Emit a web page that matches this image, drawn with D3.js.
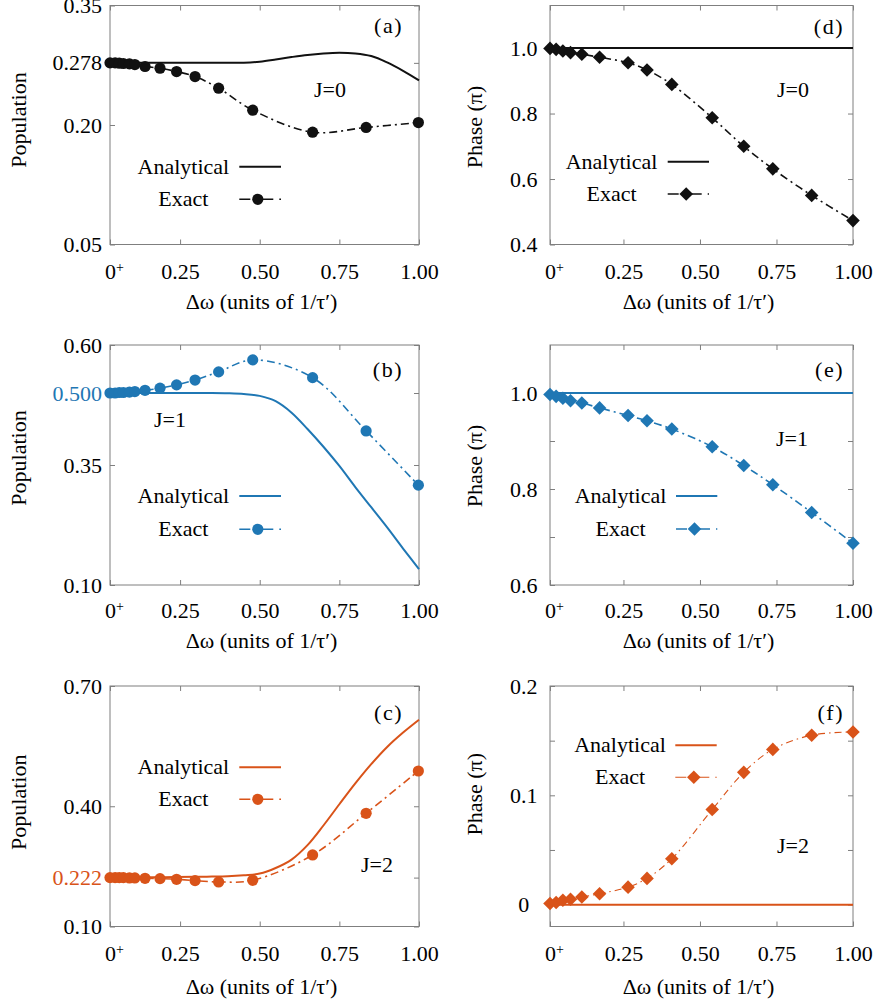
<!DOCTYPE html>
<html>
<head>
<meta charset="utf-8">
<script src="https://cdn.jsdelivr.net/npm/d3@7"></script>
<style>
  body { margin: 0; background: #fff; }
  svg text { font-family: "Liberation Serif", "Times New Roman", serif; font-size: 22px; fill: #000; }
</style>
</head>
<body>
<div id="chart"></div>
<script>

// detuning values of the exact points (left column: population, right column: phase)
const xExactPop = [0.03, 0.046, 0.059, 0.072, 0.091, 0.108, 0.14, 0.187, 0.239, 0.297, 0.371, 0.478, 0.666, 0.834, 0.998];
const xExactPhase = [0.01, 0.03, 0.052, 0.077, 0.114, 0.172, 0.265, 0.327, 0.408, 0.540, 0.643, 0.738, 0.865, 1.0];

// population, exact
const popExactJ0 = [0.278, 0.278, 0.2776, 0.2772, 0.2767, 0.2759, 0.2734, 0.2713, 0.2671, 0.2608, 0.2462, 0.2186, 0.191, 0.1969, 0.2031];
const popExactJ1 = [0.500, 0.500, 0.501, 0.501, 0.502, 0.503, 0.5056, 0.510, 0.517, 0.527, 0.544, 0.569, 0.532, 0.421, 0.308];
const popExactJ2 = [0.222, 0.222, 0.222, 0.222, 0.2212, 0.2212, 0.2203, 0.2195, 0.2178, 0.2145, 0.2112, 0.2153, 0.2785, 0.3824, 0.488];

// population, analytical
const xAnalytic = [0.03, 0.1, 0.2, 0.3, 0.35, 0.4, 0.45, 0.5, 0.55, 0.6, 0.65, 0.7, 0.75, 0.8, 0.85, 0.9, 0.95, 1.0];
const popAnalyticJ0 = [0.278, 0.278, 0.278, 0.278, 0.278, 0.278, 0.2782, 0.2795, 0.2822, 0.2853, 0.288, 0.2898, 0.2907, 0.2898, 0.2865, 0.2785, 0.268, 0.256];
const popAnalyticJ1 = [0.5, 0.5, 0.5, 0.5, 0.5, 0.4995, 0.498, 0.494, 0.483, 0.459, 0.425, 0.388, 0.348, 0.304, 0.262, 0.220, 0.176, 0.133];
const popAnalyticJ2 = [0.222, 0.222, 0.223, 0.224, 0.2245, 0.2255, 0.228, 0.232, 0.246, 0.267, 0.303, 0.352, 0.405, 0.457, 0.505, 0.548, 0.584, 0.616];

// phase (units of pi), exact
const phaseExactJ0 = [0.999, 0.996, 0.991, 0.986, 0.981, 0.972, 0.955, 0.933, 0.889, 0.787, 0.700, 0.631, 0.550, 0.473];
const phaseExactJ1 = [0.997, 0.993, 0.989, 0.984, 0.979, 0.969, 0.953, 0.942, 0.925, 0.888, 0.849, 0.809, 0.751, 0.687];
const phaseExactJ2 = [0.001, 0.002, 0.004, 0.005, 0.007, 0.010, 0.016, 0.024, 0.042, 0.087, 0.121, 0.142, 0.155, 0.158];

// phase, analytical (flat)
const xPhaseAnalytic = [0.01, 1.0];
const phaseAnalyticJ0 = [1.0, 1.0];
const phaseAnalyticJ1 = [1.0, 1.0];
const phaseAnalyticJ2 = [0, 0];

// axis ticks
const xTickValuesPop = [0.03, 0.25, 0.5, 0.75, 1.0];
const xTickValuesPhase = [0.01, 0.25, 0.5, 0.75, 1.0];
const xTickLabels = ['0', '0.25', '0.50', '0.75', '1.00'];

const yTicksA = [0.05, 0.20, 0.278, 0.35], yLabelsA = ['0.05', '0.20', '0.278', '0.35'];
const yTicksB = [0.10, 0.35, 0.500, 0.60], yLabelsB = ['0.10', '0.35', '0.500', '0.60'];
const yTicksC = [0.10, 0.222, 0.40, 0.70], yLabelsC = ['0.10', '0.222', '0.40', '0.70'];
const yTicksD = [0.4, 0.6, 0.8, 1.0], yLabelsD = ['0.4', '0.6', '0.8', '1.0'];
const yTicksE = [0.6, 0.7, 0.8, 0.9, 1.0], yLabelsE = ['0.6', '', '0.8', '', '1.0'];
const yTicksF = [0, 0.05, 0.1, 0.15, 0.2], yLabelsF = ['0', '', '0.1', '', '0.2'];

const black = '#111111';
const blue = '#1f77b4';
const orange = '#d95319';
const axisGray = '#7f7f7f';

const w = 875, h = 1008;

const svg = d3.select('#chart').append('svg').attr('width', w).attr('height', h);

const left = { x0: 110, x1: 419, xMin: 0.03, xt: xTickValuesPop, title: 'Population', titleX: 25.5, tagDx: 16, legX: 73.4, legL: [129.3, 171], yAnchor: 'end' };
const right = { x0: 550, x1: 853, xMin: 0.01, xt: xTickValuesPhase, title: 'Phase (\u03c0)', titleX: 482, tagDx: 9, yAnchor: 'middle' };
const rows = [
    { y0: 5.5, y1: 244.5, tickDy: 34, titleDy: 64 },
    { y0: 345, y1: 585, tickDy: 33, titleDy: 63 },
    { y0: 686, y1: 926.5, tickDy: 34, titleDy: 67 }
];

const panels = [
    { col: left, row: rows[0], color: black, marker: 'circle', yDomain: [0.05, 0.35], yTicks: yTicksA, yLabels: yLabelsA, hi: -1,
      ex: [xExactPop, popExactJ0], an: [xAnalytic, popAnalyticJ0], tag: '(a)', tagY: 33, J: 'J=0', jx: 330, jy: 96.5,
      legX: 183.4, legL: [239.3, 281], legY: [166.7, 199.3], yTitleC: -5 },
    { col: left, row: rows[1], color: blue, marker: 'circle', yDomain: [0.10, 0.60], yTicks: yTicksB, yLabels: yLabelsB, hi: 2,
      ex: [xExactPop, popExactJ1], an: [xAnalytic, popAnalyticJ1], tag: '(b)', tagY: 377, J: 'J=1', jx: 170, jy: 427,
      legX: 183.4, legL: [239.3, 281], legY: [496, 529.3], yTitleC: -7 },
    { col: left, row: rows[2], color: orange, marker: 'circle', yDomain: [0.10, 0.70], yTicks: yTicksC, yLabels: yLabelsC, hi: 1,
      ex: [xExactPop, popExactJ2], an: [xAnalytic, popAnalyticJ2], tag: '(c)', tagY: 720, J: 'J=2', jx: 377, jy: 871.5,
      legX: 183.4, legL: [239.3, 281], legY: [767.3, 799.3], yTitleC: -4 },
    { col: right, row: rows[0], color: black, marker: 'diamond', yDomain: [0.4, 1.13], yTicks: yTicksD, yLabels: yLabelsD, hi: -1,
      ex: [xExactPhase, phaseExactJ0], an: [xPhaseAnalytic, phaseAnalyticJ0], tag: '(d)', tagY: 34, J: 'J=0', jx: 793, jy: 96.5,
      legX: 611.5, legL: [667.7, 709], legY: [161.7, 194], yTitleC: 2 },
    { col: right, row: rows[1], color: blue, marker: 'diamond', yDomain: [0.6, 1.1], yTicks: yTicksE, yLabels: yLabelsE, hi: -1,
      ex: [xExactPhase, phaseExactJ1], an: [xPhaseAnalytic, phaseAnalyticJ1], tag: '(e)', tagY: 377, J: 'J=1', jx: 792, jy: 446,
      legX: 620.5, legL: [676, 717.3], legY: [496, 529], yTitleC: 1 },
    { col: right, row: rows[2], color: orange, marker: 'diamond', yDomain: [-0.02, 0.2], yTicks: yTicksF, yLabels: yLabelsF, hi: -1,
      ex: [xExactPhase, phaseExactJ2], an: [xPhaseAnalytic, phaseAnalyticJ2], tag: '(f)', tagY: 720, J: 'J=2', jx: 793, jy: 853,
      legX: 620, legL: [675.3, 716.7], legY: [745.3, 777.3], yTitleC: -12, thin: true }
];

panels.forEach(p => drawPanel(p));

function marker(sel, type, cx, cy, color) {
    if (type === 'circle') {
        sel.append('circle').attr('cx', cx).attr('cy', cy).attr('r', 5.6).attr('fill', color);
    } else {
        sel.append('path').attr('d', d3.symbol(d3.symbolSquare, 92))
            .attr('transform', `translate(${cx},${cy}) rotate(45)`).attr('fill', color);
    }
}

function drawPanel(p) {
    const c = p.col, r = p.row;
    const x = d3.scaleLinear().domain([c.xMin, 1.0]).range([c.x0, c.x1]);
    const y = d3.scaleLinear().domain(p.yDomain).range([r.y1, r.y0]);
    const g = svg.append('g');

    const styleAxis = a => {
        a.select('.domain').remove();
        a.selectAll('line').attr('stroke', axisGray);
        a.attr('font-family', null).attr('font-size', null);
    };

    // x axes (bottom with labels, top ticks only)
    const xb = g.append('g').attr('transform', `translate(0,${r.y1})`)
        .call(d3.axisBottom(x).tickValues(c.xt).tickSizeInner(-5).tickSizeOuter(0).tickPadding(r.tickDy - 15.6)
            .tickFormat((d, i) => xTickLabels[i]))
        .call(styleAxis);
    const first = xb.select('.tick text');
    first.attr('text-anchor', 'start').attr('x', -5.5);
    first.append('tspan').attr('dy', '-0.5em').style('font-size', '14px').text('+');

    g.append('g').attr('transform', `translate(0,${r.y0})`)
        .call(d3.axisTop(x).tickValues(c.xt).tickSizeInner(-5).tickSizeOuter(0).tickFormat(''))
        .call(styleAxis);

    // y axes
    const yl = g.append('g').attr('transform', `translate(${c.x0},0)`)
        .call(d3.axisLeft(y).tickValues(p.yTicks).tickSizeInner(-5).tickSizeOuter(0).tickPadding(8)
            .tickFormat((d, i) => p.yLabels[i]))
        .call(styleAxis);
    if (c.yAnchor === 'middle') yl.selectAll('text').attr('text-anchor', 'middle').attr('x', -26.3);
    if (p.hi >= 0) yl.selectAll('text').filter((d, i) => i === p.hi).style('fill', p.color);

    g.append('g').attr('transform', `translate(${c.x1},0)`)
        .call(d3.axisRight(y).tickValues(p.yTicks).tickSizeInner(-5).tickSizeOuter(0).tickFormat(''))
        .call(styleAxis);

    g.append('rect').attr('x', c.x0).attr('y', r.y0).attr('width', c.x1 - c.x0).attr('height', r.y1 - r.y0)
        .attr('fill', 'none').attr('stroke', axisGray).attr('stroke-width', 1);

    // titles
    g.append('text').attr('transform', `translate(${c.titleX},${(r.y0 + r.y1) / 2 + p.yTitleC}) rotate(-90)`)
        .attr('text-anchor', 'middle').text(c.title);
    g.append('text').attr('x', (c.x0 + c.x1) / 2 - 3).attr('y', r.y1 + r.titleDy)
        .attr('text-anchor', 'middle').text('\u0394\u03c9 (units of 1/\u03c4\u2032)');

    g.append('text').attr('x', c.x1 - c.tagDx).attr('y', p.tagY).attr('text-anchor', 'end')
        .style('letter-spacing', '1.5px').text(p.tag);
    g.append('text').attr('x', p.jx).attr('y', p.jy).attr('text-anchor', 'middle').text(p.J);

    // curves
    const line = d3.line().x(d => x(d[0])).y(d => y(d[1])).curve(d3.curveCatmullRom.alpha(0.5));
    const lw = p.thin ? 1.1 : 1.6;
    const dash = p.thin ? '7,4,1.5,4' : '8,4,2,4';

    g.append('path').datum(d3.zip(p.an[0], p.an[1])).attr('d', line)
        .attr('fill', 'none').attr('stroke', p.color).attr('stroke-width', 2);

    const exact = d3.zip(p.ex[0], p.ex[1]);
    g.append('path').datum(exact).attr('d', line)
        .attr('fill', 'none').attr('stroke', p.color).attr('stroke-width', lw).attr('stroke-dasharray', dash);
    const mk = g.append('g');
    exact.forEach(d => marker(mk, p.marker, x(d[0]), y(d[1]), p.color));

    // legend
    g.append('text').attr('x', p.legX).attr('y', p.legY[0] + 7).attr('text-anchor', 'middle').text('Analytical');
    g.append('line').attr('x1', p.legL[0]).attr('x2', p.legL[1]).attr('y1', p.legY[0]).attr('y2', p.legY[0])
        .attr('stroke', p.color).attr('stroke-width', 2);
    g.append('text').attr('x', p.legX).attr('y', p.legY[1] + 7).attr('text-anchor', 'middle').text('Exact');
    g.append('line').attr('x1', p.legL[0]).attr('x2', p.legL[1]).attr('y1', p.legY[1]).attr('y2', p.legY[1])
        .attr('stroke', p.color).attr('stroke-width', lw).attr('stroke-dasharray', '11,6,2,4');
    marker(g, p.marker, p.legL[0] + 18.5, p.legY[1], p.color);
}
</script>
</body>
</html>
